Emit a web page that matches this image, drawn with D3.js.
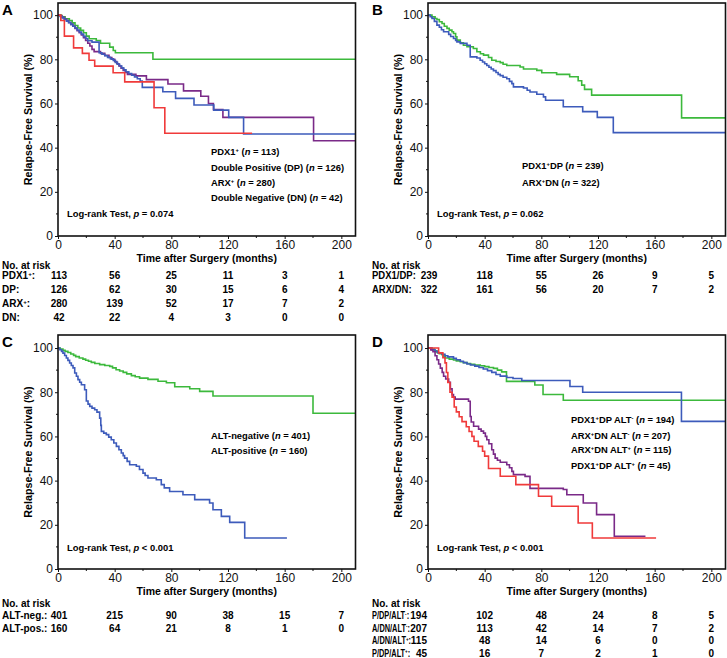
<!DOCTYPE html>
<html><head><meta charset="utf-8">
<script src="https://cdn.jsdelivr.net/npm/d3@7"></script>
<style>body{margin:0;background:#fff}svg{display:block}</style>
</head><body>
<svg id="c" width="727" height="658"></svg>
<script>
// ---------- data ----------
const X_TICKS = [0, 40, 80, 120, 160, 200];
const X_MINOR = [20, 60, 100, 140, 180];
const Y_TICKS = [0, 20, 40, 60, 80, 100];
const Y_MINOR = [10, 30, 50, 70, 90];
const RISK_TIMES = [0, 40, 80, 120, 160, 200];

// Panel A curves [months, survival %]
const A_green = [[0,100],[2.5,99.2],[5,98.4],[8,97.6],[10,96.5],[12,95.3],[14,94.2],[16,93.1],[18,92],[20,90.5],[22,89.3],[27,88.5],[30,87.3],[36.5,85.5],[39,84],[40.5,83],[67,80]];
const A_green_end = 210;
const A_purple = [[0,100],[1.5,99.6],[3,99],[4.5,98.2],[6,97.5],[7.5,96.7],[9,95.8],[10.5,95],[12,94],[13.5,93],[15,92],[16.5,91],[18,89.8],[19.5,88.5],[21,87.3],[22.5,86],[24,84.5],[25.5,83.5],[30,82.7],[33,81.8],[36,80.8],[38,80],[40,79],[41.5,78],[43,77],[44.5,76],[46,75],[47.5,74],[49,73.2],[55,72.5],[62.4,70.8],[77.6,68.8],[88.6,65.7],[100.8,63.3],[106.2,60],[109.7,57.2],[116.4,53.7],[180.4,43.1]];
const A_purple_end = 210;
const A_blue = [[0,100],[1.5,99.4],[3,98.7],[4.5,98],[6,97.3],[7.5,96.6],[9,95.8],[10.5,95],[12,94.2],[13.5,93.3],[15,92.4],[16.5,91.4],[18,90.4],[19.5,89.4],[21,88.4],[24,87.8],[29,83],[31,82.3],[33,81.6],[35,80.9],[37,80.2],[39,79.5],[40.5,78.6],[42,77.8],[43.5,77],[45,76.1],[46.5,75.2],[48,74.4],[50,73.6],[52,72.8],[54,72],[56,71.2],[58,70.2],[59.5,67.3],[74,65.3],[83,62.3],[96,59.3],[110,57],[120.5,53.7],[131,46.2]];
const A_blue_end = 210;
const A_red = [[0,100],[2,97.6],[4.5,90.5],[11,85.2],[17.2,82.7],[21.9,79.6],[25.9,76.9],[38.9,73.9],[47.1,69.8],[67.8,58.1],[75.4,46.5]];
const A_red_end = 137;

// Panel B
const B_green = [[0,100],[2.8,99.2],[5,98.5],[6.3,98],[8,97],[9.9,96.2],[11.5,95],[13.4,94],[15,93.2],[16.9,92.5],[18,91.7],[19.5,90.2],[20.4,88.7],[22.8,87.5],[25,86.4],[27.5,85.7],[32,84.9],[34.5,83.4],[37,82.5],[39.2,81.9],[42.7,80.8],[45,79.6],[48,79],[51,78.5],[53,77.8],[55.6,77.2],[65,76.5],[67.4,75.6],[76.8,75],[80.3,73.9],[90.8,73.2],[100,72.1],[106,70.3],[108.5,68.3],[110.5,66.4],[115.5,63.8],[179,53.5]];
const B_green_end = 210;
const B_blue = [[0,100],[1.5,99.3],[2.8,98.5],[4.5,97.2],[6.3,95.5],[8,94.5],[9.5,93.4],[11,92.5],[14.6,91.3],[16,90.3],[18,89.4],[19.5,88.5],[20.4,87.9],[22.8,87.2],[27.5,86.4],[29.8,81.1],[34.5,80.6],[36.8,79.6],[38.5,78.8],[40,78],[41.5,77.2],[43,76.4],[44.6,75.6],[46.2,74.9],[48,74],[49.5,73.2],[51,72.6],[53,71.9],[55.6,71.2],[57.5,70],[59.2,69],[60.3,67.5],[67.4,67],[70,66],[72,65.2],[76.8,64.2],[81.5,63],[83,61.5],[95.5,58.5],[109.2,56.3],[119.5,53.7],[130.8,46.8]];
const B_blue_end = 210;

// Panel C
const C_green = [[0,100],[1.5,99.5],[3.5,99],[5,98.5],[7,98],[9,97.3],[11,96.7],[12.5,96.1],[15,95.5],[17.6,95],[19.5,94.5],[21.5,94],[23.5,93.5],[26,93],[29.4,92.5],[33,92.1],[36.5,91.7],[38.5,91],[41,90.2],[43.5,89.6],[46,89],[48.5,88.3],[51.8,87.5],[54.5,87],[57.6,86.4],[63.5,85.8],[70.6,85],[76.5,84.3],[82.4,82.5],[93,81.6],[100,80.4],[109.4,78.3],[180,70.5]];
const C_green_end = 210;
const C_blue = [[0,100],[1.2,99.2],[2.5,98.5],[3.5,97.7],[4.7,96.6],[5.9,95.5],[7,94.4],[8.2,93.2],[9.4,92.1],[10.6,91],[11.8,88.7],[13,87.2],[14.1,85.7],[15.3,84.5],[16.5,83.4],[18.8,81.1],[20,76],[21.2,74.6],[22.4,73.6],[24,72.8],[25.9,72.1],[27.5,71],[29.4,68.3],[30.2,65],[30.6,62.3],[32.3,61.5],[34.1,60.8],[35.8,59.7],[37.6,58.5],[39.4,57],[41.2,55.5],[43,54],[44.7,52.5],[46,51.3],[47,50.2],[48.8,48.7],[50.6,47.2],[55.3,46.5],[57.5,45],[60,43.4],[61.5,42.3],[63.5,41.2],[69.4,40.4],[72.9,38.2],[75,36.7],[78.8,35.1],[88.2,33.6],[96.5,31.4],[107,29.9],[109.4,26.8],[115.3,23.8],[121.2,21.1],[131.8,14]];
const C_blue_end = 161.6;

// Panel D
const D_green = [[0,100],[2.8,99.5],[4.5,98.8],[6.3,98],[8,97.4],[9.9,97],[11,96.3],[12.2,95.5],[15,95],[18,94.6],[20,94.2],[22.8,93.8],[25,93.4],[27.5,93],[30,92.6],[33,92.3],[36.9,92],[40,91.6],[43,91.2],[46.2,90.8],[49,90],[52,89.2],[55.4,84.9],[75.4,83.3],[81.2,79],[95.5,76.4]];
const D_green_end = 210;
const D_blue = [[0,100],[2.8,99.2],[5,98.5],[7,97.8],[9.9,97.2],[12,96.5],[14,96],[18,95.3],[20,94.7],[22.8,94],[25,93.4],[27.5,92.8],[30,92.3],[33,91.8],[36,91.2],[39,90.5],[42,89.8],[45,89],[48,88],[51,87.3],[55.6,86.7],[60,86.2],[66.2,85.3],[100.2,82.6],[109.2,80],[178.9,66.8]];
const D_blue_end = 210;
const D_purple = [[0,100],[2,99.1],[3.5,98.3],[5,96.5],[6.3,94.7],[7.5,92.8],[8.7,90.9],[10,89],[11,87.2],[12.5,86],[14.6,84.5],[15.8,81.5],[17,78.9],[18,77.8],[19.2,76.9],[28.6,75.9],[29.8,69],[30.5,66.5],[32.2,64.6],[35.7,63.3],[37.5,62.4],[39.2,61.5],[40.5,60],[41.5,58.5],[43,56.7],[45,54],[46.2,52],[47.4,50.2],[49,49.2],[51,48.3],[55.6,47.2],[57.5,45.8],[59.2,44.2],[60.3,42.7],[68.5,41.9],[72,36.5],[95.5,36],[98,33.6],[109.6,29.9],[119,24.6],[131.5,14.8]];
const D_purple_end = 153.5;
const D_red = [[0,100],[7.5,97.8],[10.5,95.6],[12,93.3],[13,88.9],[14,84.4],[15.5,80],[17,77.8],[18.5,73.3],[20,71.1],[22,68.9],[24,66.7],[27,64.4],[29,62.2],[31,60],[32.5,57.8],[35.5,55.5],[38.5,53.3],[40,51.1],[42.7,45.5],[51,42],[62,38.2],[78,32.9],[87.3,28.4],[106,20.8],[116,14]];
const D_red_end = 161;

// Legends and tests
const A_legend = ["PDX1^+ (*n* = 113)", "Double Positive (DP) (*n* = 126)", "ARX^+ (*n* = 280)", "Double Negative (DN) (*n* = 42)"];
const B_legend = ["PDX1^+DP (*n* = 239)", "ARX^+DN (*n* = 322)"];
const C_legend = ["ALT-negative (*n* = 401)", "ALT-positive (*n* = 160)"];
const D_legend = ["PDX1^+DP ALT^- (*n* = 194)", "ARX^+DN ALT^- (*n* = 207)", "ARX^+DN ALT^+ (*n* = 115)", "PDX1^+DP ALT^+ (*n* = 45)"];
const A_test = "Log-rank Test, *p* = 0.074";
const B_test = "Log-rank Test, *p* = 0.062";
const C_test = "Log-rank Test, *p* < 0.001";
const D_test = "Log-rank Test, *p* < 0.001";

// Numbers at risk
const A_riskLabels = ["PDX1^+:", "DP:", "ARX^+:", "DN:"];
const A_risk = [[113,56,25,11,3,1],[126,62,30,15,6,4],[280,139,52,17,7,2],[42,22,4,3,0,0]];
const B_riskLabels = ["PDX1/DP:", "ARX/DN:"];
const B_risk = [[239,118,55,26,9,5],[322,161,56,20,7,2]];
const C_riskLabels = ["ALT-neg.:", "ALT-pos.:"];
const C_risk = [[401,215,90,38,15,7],[160,64,21,8,1,0]];
const D_riskLabels = ["P/DP/ALT^-:", "A/DN/ALT^-:", "A/DN/ALT^+:", "P/DP/ALT^+:"];
const D_risk = [[194,102,48,24,8,5],[207,113,42,14,7,2],[115,48,14,6,0,0],[45,16,7,2,1,0]];

// ---------- style ----------
const COL = {green:"#3cb93c", purple:"#7a2a88", blue:"#3d5bbb", red:"#f03a3a"};
const FONT = "'Liberation Sans', Arial, Helvetica, sans-serif";

const panels = [
  {letter:"A", ox:0, top:3, bottom:236, ymax:105.5,
   curves:[[A_green,A_green_end,"green"],[A_purple,A_purple_end,"purple"],[A_blue,A_blue_end,"blue"],[A_red,A_red_end,"red"]],
   legend:A_legend, legX:211, legY:[152,168,183,197.5], test:A_test, testY:213.7,
   riskLabels:A_riskLabels, risk:A_risk, riskHeadY:265, riskY0:275.5, riskDy:14, firstAnchor:"middle", labScale:1},
  {letter:"B", ox:370, top:3, bottom:236, ymax:105.5,
   curves:[[B_green,B_green_end,"green"],[B_blue,B_blue_end,"blue"]],
   legend:B_legend, legX:152, legY:[166,182.7], test:B_test, testY:213.7,
   riskLabels:B_riskLabels, risk:B_risk, riskHeadY:265, riskY0:275.5, riskDy:14, firstAnchor:"middle", labScale:0.95},
  {letter:"C", ox:0, top:335, bottom:569, ymax:105.9,
   curves:[[C_green,C_green_end,"green"],[C_blue,C_blue_end,"blue"]],
   legend:C_legend, legX:211, legY:[435.5,450.5], test:C_test, testY:547.5,
   riskLabels:C_riskLabels, risk:C_risk, riskHeadY:603.5, riskY0:615.5, riskDy:12.6, firstAnchor:"middle", labScale:1},
  {letter:"D", ox:370, top:335, bottom:569, ymax:105.9,
   curves:[[D_green,D_green_end,"green"],[D_blue,D_blue_end,"blue"],[D_purple,D_purple_end,"purple"],[D_red,D_red_end,"red"]],
   legend:D_legend, legX:201, legY:[420,436,450,465.5], test:D_test, testY:548,
   riskLabels:D_riskLabels, risk:D_risk, riskHeadY:603.5, riskY0:615.5, riskDy:12.6, firstAnchor:"end", labScale:0.74}
];

const svg = d3.select("#c").style("font-family", FONT);

function rich(sel, str) {
  str.split(/(\^[+-]|\*[^*]+\*)/).filter(s => s.length).forEach(p => {
    if (p[0] === "^") sel.append("tspan").attr("baseline-shift", "super").attr("font-size", "62%").text(p[1]);
    else if (p[0] === "*") sel.append("tspan").attr("font-style", "italic").text(p.slice(1, -1));
    else sel.append("tspan").text(p);
  });
}

panels.forEach(P => {
  const L = 58 + P.ox, R = 355.5 + P.ox;
  const x = d3.scaleLinear().domain([0, 210]).range([L, R]);
  const y = d3.scaleLinear().domain([0, P.ymax]).range([P.bottom, P.top]);
  const g = svg.append("g");

  // axes
  const ya = g.append("g").attr("transform", `translate(${L},0)`)
    .call(d3.axisLeft(y).tickValues(Y_TICKS).tickSize(3).tickPadding(2));
  const xa = g.append("g").attr("transform", `translate(0,${P.bottom})`)
    .call(d3.axisBottom(x).tickValues(X_TICKS).tickSize(3).tickPadding(1));
  [ya, xa].forEach(a => {
    a.select(".domain").remove();
    a.selectAll("text").attr("font-size", 12).attr("font-family", FONT).attr("fill", "#111");
    a.selectAll("line").attr("stroke", "#111").attr("stroke-width", 1);
  });
  g.selectAll(".ym").data(Y_MINOR).enter().append("line")
    .attr("x1", L - 2).attr("x2", L).attr("y1", d => y(d)).attr("y2", d => y(d)).attr("stroke", "#111");
  g.selectAll(".xm").data(X_MINOR).enter().append("line")
    .attr("y1", P.bottom).attr("y2", P.bottom + 2).attr("x1", d => x(d)).attr("x2", d => x(d)).attr("stroke", "#111");

  // curves
  const line = d3.line().x(d => x(d[0])).y(d => y(d[1])).curve(d3.curveStepAfter);
  P.curves.forEach(([pts, end, c]) => {
    const full = pts.concat([[end, pts[pts.length - 1][1]]]);
    g.append("path").attr("d", line(full)).attr("fill", "none")
      .attr("stroke", COL[c]).attr("stroke-width", 1.6);
  });

  // frame
  g.append("rect").attr("x", L).attr("y", P.top).attr("width", R - L).attr("height", P.bottom - P.top)
    .attr("fill", "none").attr("stroke", "#111").attr("stroke-width", 1.6);

  // letter
  g.append("text").attr("x", 2 + P.ox).attr("y", P.top + 11.5).attr("font-size", 15).attr("font-weight", "bold").text(P.letter);

  // axis titles
  g.append("text").attr("transform", `translate(${28 + P.ox},${(P.top + P.bottom) / 2}) rotate(-90)`)
    .attr("text-anchor", "middle").attr("dy", "0.35em").attr("font-size", 10.7).attr("font-weight", "bold")
    .text("Relapse-Free Survival (%)");
  g.append("text").attr("x", (L + R) / 2).attr("y", P.bottom + 22).attr("dy", "0.35em")
    .attr("text-anchor", "middle").attr("font-size", 10.5).attr("font-weight", "bold")
    .text("Time after Surgery (months)");

  // legend
  P.legend.forEach((s, i) => {
    const t = g.append("text").attr("x", P.legX + P.ox).attr("y", P.legY[i]).attr("dy", "0.35em")
      .attr("font-size", 9.4).attr("font-weight", "bold");
    rich(t, s);
  });
  const tt = g.append("text").attr("x", 67 + P.ox).attr("y", P.testY).attr("dy", "0.35em")
    .attr("font-size", 9.4).attr("font-weight", "bold");
  rich(tt, P.test);

  // risk table
  g.append("text").attr("x", 2 + P.ox).attr("y", P.riskHeadY).attr("dy", "0.35em")
    .attr("font-size", 10).attr("font-weight", "bold").text("No. at risk");
  P.riskLabels.forEach((lab, i) => {
    const yy = P.riskY0 + i * P.riskDy;
    const t = g.append("text").attr("transform", `translate(${2 + P.ox},${yy}) scale(${P.labScale},1)`)
      .attr("dy", "0.35em").attr("font-size", 10).attr("font-weight", "bold");
    rich(t, lab);
    P.risk[i].forEach((v, j) => {
      const first = j === 0 && P.firstAnchor === "end";
      g.append("text").attr("x", first ? x(RISK_TIMES[j]) - 1 : x(RISK_TIMES[j]) + (j === 0 ? 1 : 0))
        .attr("y", yy).attr("dy", "0.35em")
        .attr("text-anchor", first ? "end" : "middle")
        .attr("font-size", 10).attr("font-weight", "bold").text(v);
    });
  });
});
</script>
</body></html>
